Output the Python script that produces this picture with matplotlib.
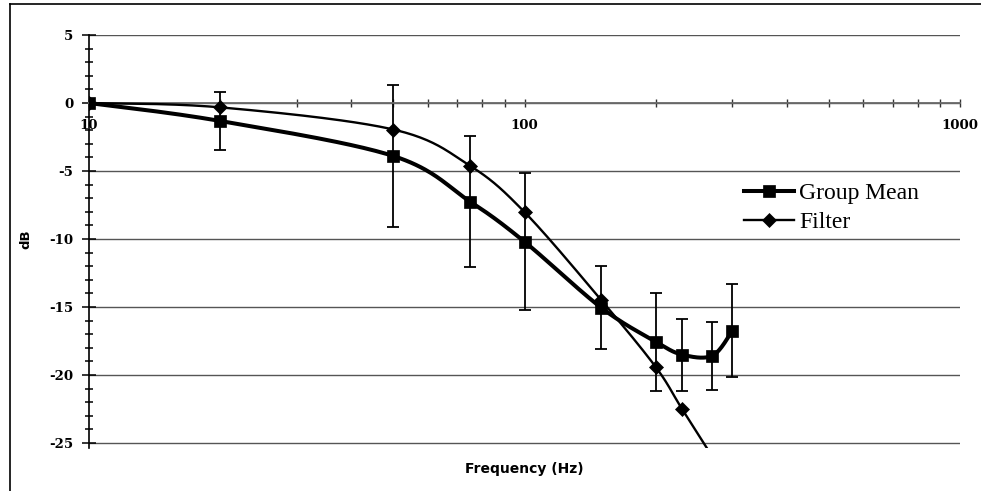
import numpy as np
import matplotlib
matplotlib.use("Agg")
import matplotlib.pyplot as plt
from matplotlib.lines import Line2D
from matplotlib.ticker import FixedLocator, NullFormatter

# ---- data ----
freq = [10, 20, 50, 75, 100, 150, 200, 230, 270, 300]
group_mean = [0.0, -1.32, -3.9, -7.25, -10.2, -15.05, -17.55, -18.5, -18.58, -16.76]
group_err = [0.0, 2.1, 5.25, 4.84, 5.02, 3.04, 3.6, 2.65, 2.5, 3.42]
filter_db = [0.0, -0.32, -1.95, -4.62, -8.02, -14.49, -19.4, -22.5, -26.0, -28.5]

y_major = [5, 0, -5, -10, -15, -20, -25]
y_labels = ["5", "0", "-5", "-10", "-15", "-20", "-25"]
x_major = [10, 100, 1000]
x_labels = ["10", "100", "1000"]

W, H = 981, 491
fig = plt.figure(figsize=(W / 100, H / 100), dpi=100)

left, right, top, bottom = 89, 960, 35, 448
ax = fig.add_axes([left / W, 1 - bottom / H, (right - left) / W, (bottom - top) / H])
ax.set_xscale("log")
ax.set_xlim(10, 1000)
ax.set_ylim(-25.37, 5.0)


def smooth(xs, ys, n=40):
    u = np.log10(np.asarray(xs, float))
    v = np.asarray(ys, float)
    P = np.column_stack([u, v])
    Pe = np.vstack([P[0], P, P[-1]])
    out = []
    t = np.linspace(0, 1, n)
    for i in range(len(P) - 1):
        p0, p1, p2, p3 = Pe[i], Pe[i + 1], Pe[i + 2], Pe[i + 3]
        c1 = p1 + (p2 - p0) / 6.0
        c2 = p2 - (p3 - p1) / 6.0
        seg = ((1 - t) ** 3)[:, None] * p1 + (3 * (1 - t) ** 2 * t)[:, None] * c1 \
            + (3 * (1 - t) * t ** 2)[:, None] * c2 + (t ** 3)[:, None] * p2
        out.append(seg if i == 0 else seg[1:])
    S = np.vstack(out)
    return 10 ** S[:, 0], S[:, 1]


# gridlines
for yv in y_major:
    ax.axhline(yv, color="#555555", lw=1.0, zorder=1)

# error bars (group mean)
ax.errorbar(freq[1:], group_mean[1:], yerr=group_err[1:], fmt="none",
            ecolor="black", elinewidth=1.3, capsize=4.6, capthick=1.3, zorder=2)

# lines
sx, sy = smooth(freq, filter_db)
ax.plot(sx, sy, color="black", lw=1.7, zorder=3, solid_capstyle="butt")
ax.plot(freq, filter_db, ls="none", marker="D", ms=6.9, color="black", mew=0.5, zorder=4)

gx, gy = smooth(freq, group_mean)
ax.plot(gx, gy, color="black", lw=2.9, zorder=3, solid_capstyle="butt")
ax.plot(freq, group_mean, ls="none", marker="s", ms=8.8, color="black", mew=0.5, zorder=4)

# spines / axes
for s in ["top", "right"]:
    ax.spines[s].set_visible(False)
ax.spines["bottom"].set_position(("data", 0))
ax.spines["bottom"].set_color("#6a6a6a")
ax.spines["bottom"].set_linewidth(1.3)
ax.spines["left"].set_color("black")
ax.spines["left"].set_linewidth(1.2)

ax.xaxis.set_major_locator(FixedLocator(x_major))
ax.set_xticklabels(x_labels)
minors = [m * d for d in (10, 100) for m in range(2, 10)]
ax.xaxis.set_minor_locator(FixedLocator(minors))
ax.xaxis.set_minor_formatter(NullFormatter())
ax.tick_params(axis="x", which="both", direction="inout", length=6, width=1.0,
               color="#333333", pad=8.5)

ax.set_yticks(y_major)
ax.set_yticklabels(y_labels)
ax.yaxis.set_minor_locator(FixedLocator(list(range(-25, 6))))
ax.tick_params(axis="y", which="major", direction="inout", length=10, width=1.1,
               color="black", pad=6.2)
ax.tick_params(axis="y", which="minor", direction="inout", length=6, width=1.1,
               color="black")

for lab in ax.get_xticklabels() + ax.get_yticklabels():
    lab.set_fontfamily("DejaVu Serif")
    lab.set_fontweight("bold")
    lab.set_fontsize(9.6)

fig.text(524 / W, 1 - 469 / H, "Frequency (Hz)", ha="center", va="center",
         family="DejaVu Sans", weight="bold", size=10)
fig.text(26 / W, 1 - 239 / H, "dB", ha="center", va="center", rotation=90,
         family="DejaVu Sans", weight="bold", size=9.5)

# legend
h1 = Line2D([], [], color="black", lw=2.9, marker="s", ms=8.8, mew=0.5)
h2 = Line2D([], [], color="black", lw=1.7, marker="D", ms=6.9, mew=0.5)
fig.legend([h1, h2], ["Group Mean", "Filter"], loc="center left",
           bbox_to_anchor=(744 / W, 1 - 208 / H), frameon=False,
           prop=dict(family="Liberation Serif", size=17),
           handlelength=2.1, handletextpad=0.25, labelspacing=0.33,
           borderpad=0, borderaxespad=0)

# outer frame (top and left only visible)
fig.add_artist(Line2D([10 / W, 1.0], [1 - 4 / H, 1 - 4 / H], color="black", lw=1.2,
                      transform=fig.transFigure))
fig.add_artist(Line2D([10 / W, 10 / W], [1 - 4 / H, 0.0], color="black", lw=1.2,
                      transform=fig.transFigure))

fig.savefig("out.png", dpi=100)
